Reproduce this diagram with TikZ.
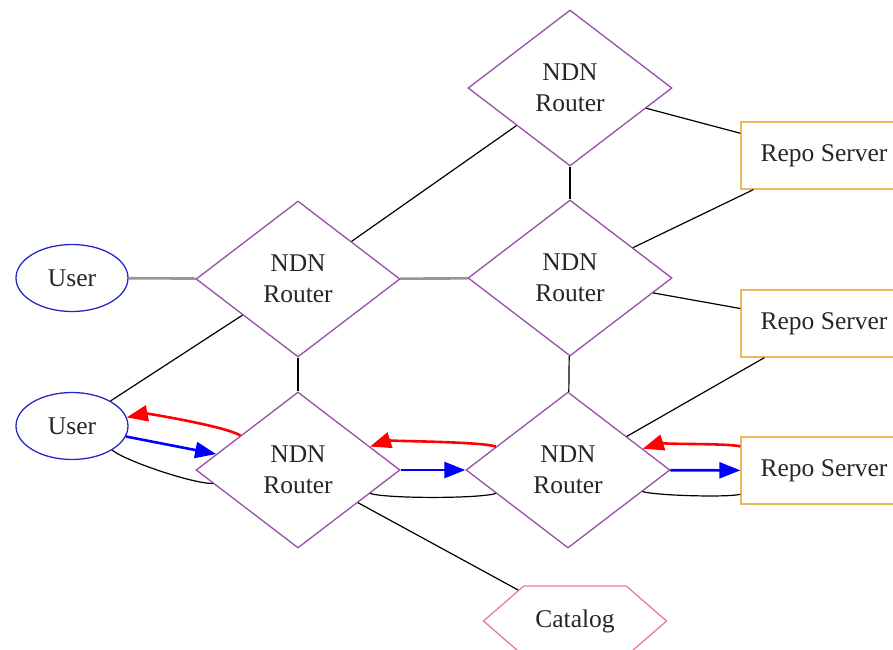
\documentclass[tikz,border=0pt]{standalone}
\usepackage{fontspec}
\setmainfont{Liberation Serif}
\usetikzlibrary{shapes.geometric,shapes.symbols,arrows.meta}
\definecolor{routerc}{RGB}{150,80,165}
\definecolor{userc}{RGB}{40,40,200}
\definecolor{repoc}{RGB}{235,185,90}
\definecolor{catc}{RGB}{235,120,170}
\definecolor{linkg}{RGB}{150,150,150}
\tikzset{
  lbl/.style={font=\fontsize{25.5}{31}\selectfont, align=center, text=black!85},
  router/.style={lbl, diamond, draw=routerc, line width=1.3pt, minimum width=204pt, minimum height=156pt, inner sep=0pt},
  user/.style={lbl, ellipse, draw=userc, line width=1.3pt, minimum width=112pt, minimum height=67pt, inner sep=0pt},
  repo/.style={lbl, rectangle, draw=repoc, line width=1.3pt, minimum width=166pt, minimum height=67pt},
  catalog/.style={lbl, signal, signal to=west and east, signal pointer angle=82, draw=catc, line width=1.3pt, minimum width=183pt, minimum height=70pt, inner sep=0pt},
  link/.style={line width=1.2pt, black},
  glink/.style={line width=2.6pt, linkg},
  req/.style={line width=2.6pt, blue, -{Triangle[length=21pt,width=16pt]}},
  dat/.style={line width=2.6pt, red, -{Triangle[length=21pt,width=16pt]}}
}
\begin{document}
\begin{tikzpicture}[x=1pt,y=-1pt]
\useasboundingbox (0,0) rectangle (893,649);
\clip (0,0) rectangle (893,649);
\node[router] (r1) at (570,88) {NDN\\Router};
\node[router] (r2) at (298,279) {NDN\\Router};
\node[router] (r3) at (570,278) {NDN\\Router};
\node[router] (r4) at (298,470) {NDN\\Router};
\node[router] (r5) at (568,470) {NDN\\Router};
\node[user] (u1) at (72,278) {User};
\node[user] (u2) at (72,426) {User};
\node[repo] (s1) at (824,155.5) {Repo Server};
\node[repo] (s2) at (824,323.5) {Repo Server};
\node[repo] (s3) at (824,470.5) {Repo Server};
\node[catalog] (cat) at (575,621) {Catalog};
% plain links
\draw[glink] (u1) -- (r2);
\draw[glink] (r2) -- (r3);
\draw[link] (r2) -- (r1);
\draw[link] (r2) -- (r4);
\draw[link] (r1) -- (r3);
\draw[link] (r1) -- (s1);
\draw[link] (r3) -- (s1);
\draw[link] (r3) -- (s2);
\draw[link] (r3) -- (r5);
\draw[link] (r5) -- (s2);
\draw[link] (u2) -- (r2);
\draw[link] (r4) -- (cat);
\draw[link] (u2) to[bend right=20, looseness=0.45] (r4);
\draw[link] (r4) to[bend right=18, looseness=0.35] (r5);
\draw[link] (r5) to[bend right=16, looseness=0.35] (s3);
% requests
\draw[req] (u2) -- (r4);
\draw[req] (r4) -- (r5);
\draw[req] (r5) -- (s3);
% data
\draw[dat] (r4) to[bend right=20, looseness=0.45] (u2);
\draw[dat] (r5) to[bend right=18, looseness=0.35] (r4);
\draw[dat] (s3) to[bend right=16, looseness=0.35] (r5);
\end{tikzpicture}
\end{document}
